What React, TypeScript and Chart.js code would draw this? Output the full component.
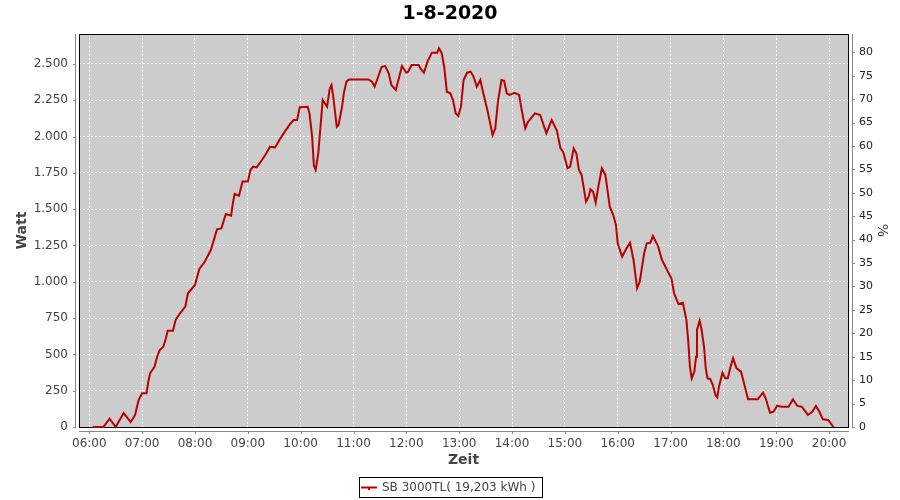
import React, { useEffect, useRef } from "react";
import { Chart, registerables } from "chart.js";

Chart.register(...registerables);

const TITLE = "1-8-2020";
const SERIES_LABEL = "SB 3000TL( 19,203 kWh )";
const X_TITLE = "Zeit";
const Y_TITLE = "Watt";
const Y2_TITLE = "%";

// time of day in minutes since midnight
const TIME_MIN = [
  364, 376, 383, 390, 399, 407, 412, 416, 420, 425, 427, 429, 434, 437, 440, 444, 447, 449, 455, 458,
  463, 469, 472, 480, 483, 485, 491, 498, 505, 510, 515, 521, 523, 525, 530, 534, 540, 543, 546, 550,
  556, 561, 565, 571, 577, 582, 588, 592, 596, 599, 608, 610, 613, 615, 617, 620, 623, 625, 630, 633,
  635, 637, 641, 643, 647, 649, 652, 655, 677, 681, 684, 688, 692, 696, 700, 703, 708, 712, 715, 720,
  722, 726, 734, 736, 740, 744, 749, 755, 757, 760, 763, 766, 770, 773, 776, 779, 782, 785, 789, 793,
  796, 800, 804, 807, 812, 816, 818, 821, 824, 828, 831, 834, 837, 843, 848, 851, 855, 858, 866, 872,
  879, 885, 891, 895, 898, 903, 906, 910, 913, 916, 919, 924, 927, 929, 932, 935, 938, 942, 946, 951,
  955, 958, 960, 965, 970, 974, 978, 982, 985, 990, 993, 997, 1000, 1006, 1010, 1016, 1021, 1024, 1029, 1034,
  1038, 1040, 1042, 1044, 1047, 1049, 1050, 1053, 1055, 1058, 1060, 1062, 1065, 1068, 1071, 1073, 1075, 1079, 1082, 1085,
  1088, 1091, 1095, 1100, 1103, 1108, 1119, 1125, 1128, 1133, 1137, 1141, 1146, 1154, 1159, 1164, 1169, 1176, 1181, 1185,
  1189, 1193, 1199, 1205,
];

const WATTS = [
  0, 0, 57, 0, 96, 34, 83, 186, 232, 232, 312, 370, 415, 484, 530, 553, 611, 663, 663, 737,
  783, 829, 921, 978, 1047, 1088, 1138, 1219, 1361, 1368, 1467, 1455, 1541, 1605, 1593, 1690, 1690, 1770, 1793, 1788,
  1839, 1885, 1930, 1926, 1988, 2034, 2087, 2114, 2114, 2202, 2206, 2160, 2000, 1800, 1770, 1885, 2103, 2252, 2206, 2330,
  2355, 2275, 2068, 2080, 2206, 2298, 2380, 2394, 2394, 2378, 2344, 2412, 2481, 2486, 2436, 2355, 2321, 2412, 2486, 2440,
  2447, 2493, 2493, 2470, 2440, 2516, 2578, 2578, 2608, 2578, 2481, 2309, 2298, 2252, 2160, 2142, 2206, 2390, 2440, 2447,
  2417, 2344, 2390, 2309, 2183, 2068, 2011, 2057, 2240, 2390, 2385, 2298, 2287, 2302, 2287, 2183, 2057, 2100, 2160, 2149,
  2022, 2114, 2040, 1919, 1896, 1782, 1793, 1919, 1885, 1770, 1736, 1552, 1586, 1637, 1621, 1545, 1655, 1782, 1736, 1517,
  1460, 1391, 1265, 1173, 1231, 1269, 1150, 955, 1001, 1196, 1265, 1269, 1315, 1242, 1155, 1081, 1024, 921, 847, 856,
  737, 599, 415, 335, 381, 484, 668, 732, 680, 553, 404, 335, 331, 289, 220, 204, 278, 374, 335, 335,
  411, 473, 404, 381, 312, 191, 191, 236, 198, 98, 105, 147, 140, 140, 191, 145, 140, 83, 105, 145,
  105, 53, 48, 0,
];

const HOUR_TICKS = [
  "06:00", "07:00", "08:00", "09:00", "10:00", "11:00", "12:00", "13:00",
  "14:00", "15:00", "16:00", "17:00", "18:00", "19:00", "20:00",
];
const WATT_TICKS = [0, 250, 500, 750, 1000, 1250, 1500, 1750, 2000, 2250, 2500];
const PCT_TICKS = [0, 5, 10, 15, 20, 25, 30, 35, 40, 45, 50, 55, 60, 65, 70, 75, 80];

const X_MIN = 348.3;
const X_MAX = 1221.5;
const Y_MAX = 2706.6;
const Y2_MAX = 83.9;

const FONT = "'DejaVu Sans', 'Liberation Sans', sans-serif";
const TEXT_GRAY = "#444444";
const AXIS_GRAY = "#888888";
const LINE_RED = "#bb0000";

const toMin = (s: string) => {
  const [h, m] = s.split(":").map(Number);
  return h * 60 + m;
};
const fmtDe = (v: number) => String(Math.round(v)).replace(/\B(?=(\d{3})+(?!\d))/g, ".");

const decorPlugin = {
  id: "decor",
  beforeDraw(chart: any) {
    const { ctx, chartArea: a } = chart;
    ctx.save();
    ctx.fillStyle = "#ffffff";
    ctx.fillRect(0, 0, chart.width, chart.height);
    ctx.fillStyle = "#cccccc";
    ctx.fillRect(a.left, a.top, a.right - a.left, a.bottom - a.top);
    ctx.restore();
  },
  beforeDatasetsDraw(chart: any) {
    const { ctx, chartArea: a } = chart;
    ctx.save();
    ctx.strokeStyle = "#000000";
    ctx.lineWidth = 1;
    ctx.strokeRect(a.left + 0.5, a.top + 0.5, a.right - a.left, a.bottom - a.top);
    ctx.restore();
  },
  afterDraw(chart: any) {
    const { ctx, chartArea: a } = chart;
    const xs = chart.scales.x;
    const ys = chart.scales.y;
    const y2 = chart.scales.y2;
    ctx.save();
    ctx.strokeStyle = AXIS_GRAY;
    ctx.lineWidth = 1;
    ctx.beginPath();
    // left axis
    const lx = a.left - 3.5;
    ctx.moveTo(lx, a.top);
    ctx.lineTo(lx, a.bottom + 1);
    WATT_TICKS.forEach((v) => {
      const p = Math.round(ys.getPixelForValue(v)) + 0.5;
      ctx.moveTo(lx - 2.5, p);
      ctx.lineTo(lx, p);
    });
    // right axis
    const rx = a.right + 4.5;
    ctx.moveTo(rx, a.top);
    ctx.lineTo(rx, a.bottom + 1);
    PCT_TICKS.forEach((v) => {
      const p = Math.round(y2.getPixelForValue(v)) + 0.5;
      ctx.moveTo(rx, p);
      ctx.lineTo(rx + 2.5, p);
    });
    // bottom axis
    const by = a.bottom + 4.5;
    ctx.moveTo(a.left, by);
    ctx.lineTo(a.right + 1, by);
    HOUR_TICKS.forEach((s) => {
      const p = Math.round(xs.getPixelForValue(toMin(s))) + 0.5;
      ctx.moveTo(p, by);
      ctx.lineTo(p, by + 2.5);
    });
    ctx.stroke();

    // title
    ctx.fillStyle = "#000000";
    ctx.font = `bold 19px ${FONT}`;
    ctx.textAlign = "center";
    ctx.textBaseline = "middle";
    ctx.fillText(TITLE, 450, 14);

    // axis titles
    ctx.fillStyle = TEXT_GRAY;
    ctx.font = `bold 14px ${FONT}`;
    ctx.fillText(X_TITLE, (a.left + a.right) / 2, 460);
    const cy = (a.top + a.bottom) / 2;
    ctx.save();
    ctx.translate(22, cy);
    ctx.rotate(-Math.PI / 2);
    ctx.fillText(Y_TITLE, 0, 0);
    ctx.restore();
    ctx.save();
    ctx.translate(882, cy);
    ctx.rotate(Math.PI / 2);
    ctx.font = `14px ${FONT}`;
    ctx.fillText(Y2_TITLE, 0, 0);
    ctx.restore();

    // legend
    const lbx = 359.5, lby = 477.5, lbw = 183, lbh = 20;
    ctx.strokeStyle = "#000000";
    ctx.lineWidth = 1;
    ctx.strokeRect(lbx, lby, lbw, lbh);
    ctx.strokeStyle = LINE_RED;
    ctx.lineWidth = 2;
    ctx.beginPath();
    ctx.moveTo(361, 487.5);
    ctx.lineTo(377, 487.5);
    ctx.stroke();
    ctx.fillStyle = LINE_RED;
    ctx.fillRect(368, 487, 2, 3);
    ctx.fillStyle = TEXT_GRAY;
    ctx.font = `12px ${FONT}`;
    ctx.textAlign = "left";
    ctx.textBaseline = "middle";
    ctx.fillText(SERIES_LABEL, 382, 488);
    ctx.restore();
  },
};

export default function App() {
  const ref = useRef<HTMLCanvasElement | null>(null);
  useEffect(() => {
    document.body.style.margin = "0";
    if (!ref.current) return;
    const chart = new Chart(ref.current, {
      type: "line",
      data: {
        datasets: [
          {
            label: SERIES_LABEL,
            data: TIME_MIN.map((t, i) => ({ x: t, y: WATTS[i] })),
            borderColor: LINE_RED,
            backgroundColor: LINE_RED,
            borderWidth: 2,
            pointRadius: 0,
            tension: 0,
            fill: false,
            yAxisID: "y",
            clip: false as any,
          },
        ],
      },
      options: {
        animation: false,
        responsive: false,
        devicePixelRatio: 1,
        layout: { padding: { top: 34, left: 0, right: 0, bottom: 0 } },
        plugins: {
          legend: { display: false },
          title: { display: false },
          tooltip: { enabled: false },
        },
        scales: {
          x: {
            type: "linear",
            min: X_MIN,
            max: X_MAX,
            afterBuildTicks: (scale: any) => {
              scale.ticks = HOUR_TICKS.map((s) => ({ value: toMin(s) }));
            },
            afterFit: (scale: any) => {
              scale.height = 73;
            },
            ticks: {
              autoSkip: false,
              maxRotation: 0,
              padding: 10,
              color: TEXT_GRAY,
              font: { family: FONT, size: 12 },
              callback: (_v: any, i: number) => HOUR_TICKS[i],
            },
            grid: { color: "#ffffff", lineWidth: 1, drawTicks: false },
            border: { display: false, dash: [2, 2] },
          },
          y: {
            type: "linear",
            position: "left",
            min: 0,
            max: Y_MAX,
            afterBuildTicks: (scale: any) => {
              scale.ticks = WATT_TICKS.map((v) => ({ value: v }));
            },
            afterFit: (scale: any) => {
              scale.width = 79;
            },
            ticks: {
              autoSkip: false,
              padding: 11,
              color: TEXT_GRAY,
              font: { family: FONT, size: 12 },
              callback: (v: any) => fmtDe(Number(v)),
            },
            grid: { color: "#ffffff", lineWidth: 1, drawTicks: false },
            border: { display: false, dash: [2, 2] },
          },
          y2: {
            type: "linear",
            position: "right",
            min: 0,
            max: Y2_MAX,
            afterBuildTicks: (scale: any) => {
              scale.ticks = PCT_TICKS.map((v) => ({ value: v }));
            },
            afterFit: (scale: any) => {
              scale.width = 52;
            },
            ticks: {
              autoSkip: false,
              padding: 11,
              color: "#222222",
              font: { family: FONT, size: 11 },
              callback: (v: any) => String(v),
            },
            grid: { drawOnChartArea: false, drawTicks: false },
            border: { display: false },
          },
        },
      },
      plugins: [decorPlugin],
    } as any);
    return () => chart.destroy();
  }, []);
  return (
    <div style={{ width: 900, height: 500 }}>
      <canvas ref={ref} width={900} height={500} style={{ display: "block" }} />
    </div>
  );
}
